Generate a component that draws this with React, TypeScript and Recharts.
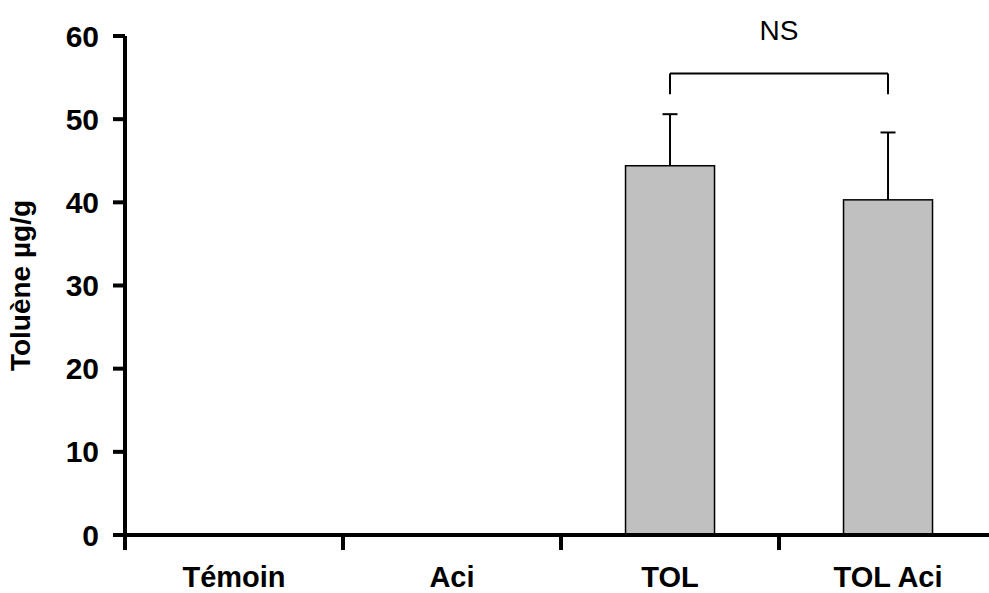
import {
  ComposedChart,
  Bar,
  XAxis,
  YAxis,
  ReferenceLine,
  Label,
} from "recharts";

const groups = ["Témoin", "Aci", "TOL", "TOL Aci"];
const toluene = [null, null, 44.4, 40.3];
const sem = [null, null, 6.2, 8.1];
const yTicks = [0, 10, 20, 30, 40, 50, 60];
const bracketTop = 55.5;
const bracketFoot = 53.0;
const bracketText = "NS";

const data = groups.map((g, i) => ({
  name: g,
  value: toluene[i],
  err: sem[i],
}));

const FONT = "'Liberation Sans', Arial, sans-serif";
const CHART_W = 997;
const PLOT_LEFT = 125;
const BAND = (CHART_W - PLOT_LEFT) / groups.length;

function GroupTick(props: any) {
  const { x, y, payload } = props;
  const edge = x - BAND / 2;
  return (
    <g>
      <line x1={edge} y1={y} x2={edge} y2={y + 13} stroke="#000" strokeWidth={4} />
      <text
        x={x}
        y={y + 50}
        textAnchor="middle"
        fontFamily={FONT}
        fontWeight="bold"
        fontSize={29}
        fill="#000"
      >
        {payload.value}
      </text>
    </g>
  );
}

// bar rectangle plus upper SEM whisker only
function BarWithSem(props: any) {
  const { x, y, width, height, payload } = props;
  if (payload.value == null || !height) return null;
  const pxPerUnit = height / payload.value;
  const top = y - (payload.err || 0) * pxPerUnit;
  const cx = x + width / 2;
  return (
    <g>
      <rect x={x} y={y} width={width} height={height} fill="#c0c0c0" stroke="#000" strokeWidth={1.5} />
      <line x1={cx} y1={y} x2={cx} y2={top} stroke="#000" strokeWidth={2} />
      <line x1={cx - 7.5} y1={top} x2={cx + 7.5} y2={top} stroke="#000" strokeWidth={2} />
    </g>
  );
}

export default function App() {
  return (
    <div
      style={{
        position: "absolute",
        left: 0,
        top: 0,
        width: 989,
        height: 593,
        overflow: "hidden",
        background: "#fff",
      }}
    >
      <ComposedChart
        width={CHART_W}
        height={593}
        data={data}
        margin={{ top: 36, right: 0, left: 0, bottom: 0 }}
        barCategoryGap="29.6%"
      >
        <XAxis
          dataKey="name"
          height={58}
          tickLine={false}
          tickSize={0}
          tick={<GroupTick />}
          axisLine={{ stroke: "#000", strokeWidth: 4 }}
          interval={0}
        />
        <YAxis
          domain={[0, 60]}
          ticks={yTicks}
          width={PLOT_LEFT}
          tickSize={12}
          tickMargin={14}
          tickLine={{ stroke: "#000", strokeWidth: 4 }}
          axisLine={{ stroke: "#000", strokeWidth: 4 }}
          tick={{ fontSize: 30, fontWeight: "bold", fill: "#000", fontFamily: FONT }}
          allowDataOverflow
        >
          <Label
            value="Toluène µg/g"
            angle={-90}
            position="insideLeft"
            offset={20}
            style={{
              fontSize: 28,
              fontWeight: "bold",
              fill: "#000",
              fontFamily: FONT,
              textAnchor: "middle",
            }}
          />
        </YAxis>
        <Bar dataKey="value" shape={<BarWithSem />} isAnimationActive={false} />
        <ReferenceLine
          segment={[
            { x: "TOL", y: bracketTop },
            { x: "TOL Aci", y: bracketTop },
          ]}
          stroke="#000"
          strokeWidth={2}
          ifOverflow="visible"
        >
          <Label
            value={bracketText}
            position="top"
            offset={33}
            style={{ fontSize: 28, fill: "#000", fontFamily: FONT }}
          />
        </ReferenceLine>
        <ReferenceLine
          segment={[
            { x: "TOL", y: bracketTop },
            { x: "TOL", y: bracketFoot },
          ]}
          stroke="#000"
          strokeWidth={2}
          ifOverflow="visible"
        />
        <ReferenceLine
          segment={[
            { x: "TOL Aci", y: bracketTop },
            { x: "TOL Aci", y: bracketFoot },
          ]}
          stroke="#000"
          strokeWidth={2}
          ifOverflow="visible"
        />
      </ComposedChart>
    </div>
  );
}
